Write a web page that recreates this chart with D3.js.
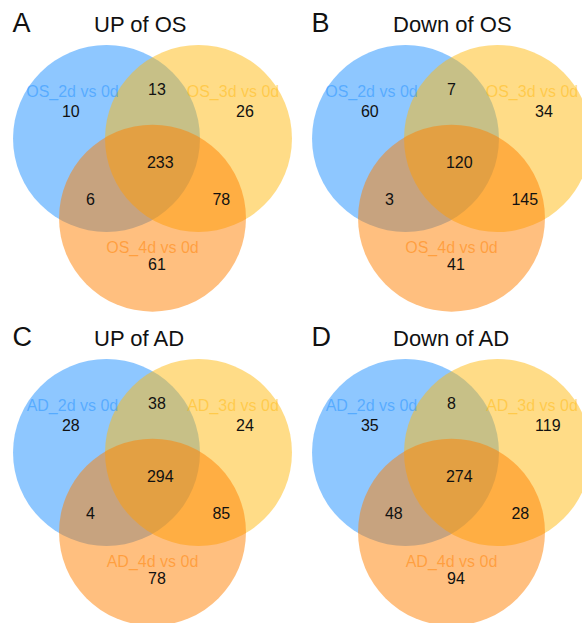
<!DOCTYPE html>
<html>
<head>
<meta charset="utf-8">
<script src="https://cdn.jsdelivr.net/npm/d3@7"></script>
<style>
  html, body { margin: 0; padding: 0; background: #fff; }
  svg { display: block; font-family: "Liberation Sans", Arial, Helvetica, sans-serif; }
</style>
</head>
<body>
<div id="draw"></div>
<script>
// panel data
var panelLetters = ['A', 'B', 'C', 'D'];
var panelTitles = ['UP of OS', 'Down of OS', 'UP of AD', 'Down of AD'];
var setNames = [
  ['OS_2d vs 0d', 'OS_3d vs 0d', 'OS_4d vs 0d'],
  ['OS_2d vs 0d', 'OS_3d vs 0d', 'OS_4d vs 0d'],
  ['AD_2d vs 0d', 'AD_3d vs 0d', 'AD_4d vs 0d'],
  ['AD_2d vs 0d', 'AD_3d vs 0d', 'AD_4d vs 0d']
];
// region order: only1, 1&2, only2, 1&2&3, 1&3, 2&3, only3
var upOS   = [10, 13, 26, 233, 6, 78, 61];
var downOS = [60, 7, 34, 120, 3, 145, 41];
var upAD   = [28, 38, 24, 294, 4, 85, 78];
var downAD = [35, 8, 119, 274, 48, 28, 94];
var counts = [upOS, downOS, upAD, downAD];

var setColors = ['#1E90FF', '#FFB90F', '#FF7F00'];

var W = 582, H = 623;
var unit = 92;      // distance between circle centres, px
var rad = 1.016;    // circle radius in units

// layout in units, relative to the first circle's centre
var circlePos = [[0, 0], [1, 0], [0.5, 0.866]];
var regionPos = [[-0.484, -0.234], [0.451, -0.473], [1.408, -0.234], [0.44, 0.321],
                 [-0.223, 0.723], [1.152, 0.723], [0.451, 1.425]];
var namePos = [[-0.37, -0.451], [1.375, -0.451], [0.5, 1.24]];

// panel origins (centre of first circle)
var origins = [[106.5, 138.5], [405.5, 138.5], [106.5, 452.5], [405.5, 452.5]];

var svg = d3.select('#draw').append('svg').attr('width', W).attr('height', H);
svg.append('rect').attr('width', W).attr('height', H).attr('fill', '#fff');

for (var p = 0; p < 4; p++) {
  var ox = origins[p][0], oy = origins[p][1];
  var x = d3.scaleLinear().domain([0, 1]).range([ox, ox + unit]);
  var y = d3.scaleLinear().domain([0, 1]).range([oy, oy + unit]);
  var g = svg.append('g');

  g.selectAll('circle').data(circlePos).enter().append('circle')
    .attr('cx', function(d) { return x(d[0]); })
    .attr('cy', function(d) { return y(d[1]); })
    .attr('r', rad * unit)
    .attr('fill', function(d, i) { return setColors[i]; })
    .attr('fill-opacity', 0.5);

  g.selectAll('text.name').data(setNames[p]).enter().append('text')
    .attr('class', 'name')
    .attr('x', function(d, i) { return x(namePos[i][0]); })
    .attr('y', function(d, i) { return y(namePos[i][1]); })
    .attr('text-anchor', 'middle')
    .attr('font-size', 16)
    .attr('fill', function(d, i) { return setColors[i]; })
    .attr('fill-opacity', 0.5)
    .text(function(d) { return d; });

  g.selectAll('text.num').data(counts[p]).enter().append('text')
    .attr('class', 'num')
    .attr('x', function(d, i) { return x(regionPos[i][0]); })
    .attr('y', function(d, i) { return y(regionPos[i][1]); })
    .attr('font-size', 16)
    .attr('fill', '#111')
    .text(function(d) { return d; });

  // panel letter
  g.append('text')
    .attr('x', ox - 94)
    .attr('y', oy - 106.5)
    .attr('font-size', 27)
    .attr('fill', '#111')
    .text(panelLetters[p]);

  // title
  g.append('text')
    .attr('x', ox - 12.5)
    .attr('y', oy - 106.5)
    .attr('font-size', 22)
    .attr('fill', '#111')
    .text(panelTitles[p]);
}
</script>
</body>
</html>
